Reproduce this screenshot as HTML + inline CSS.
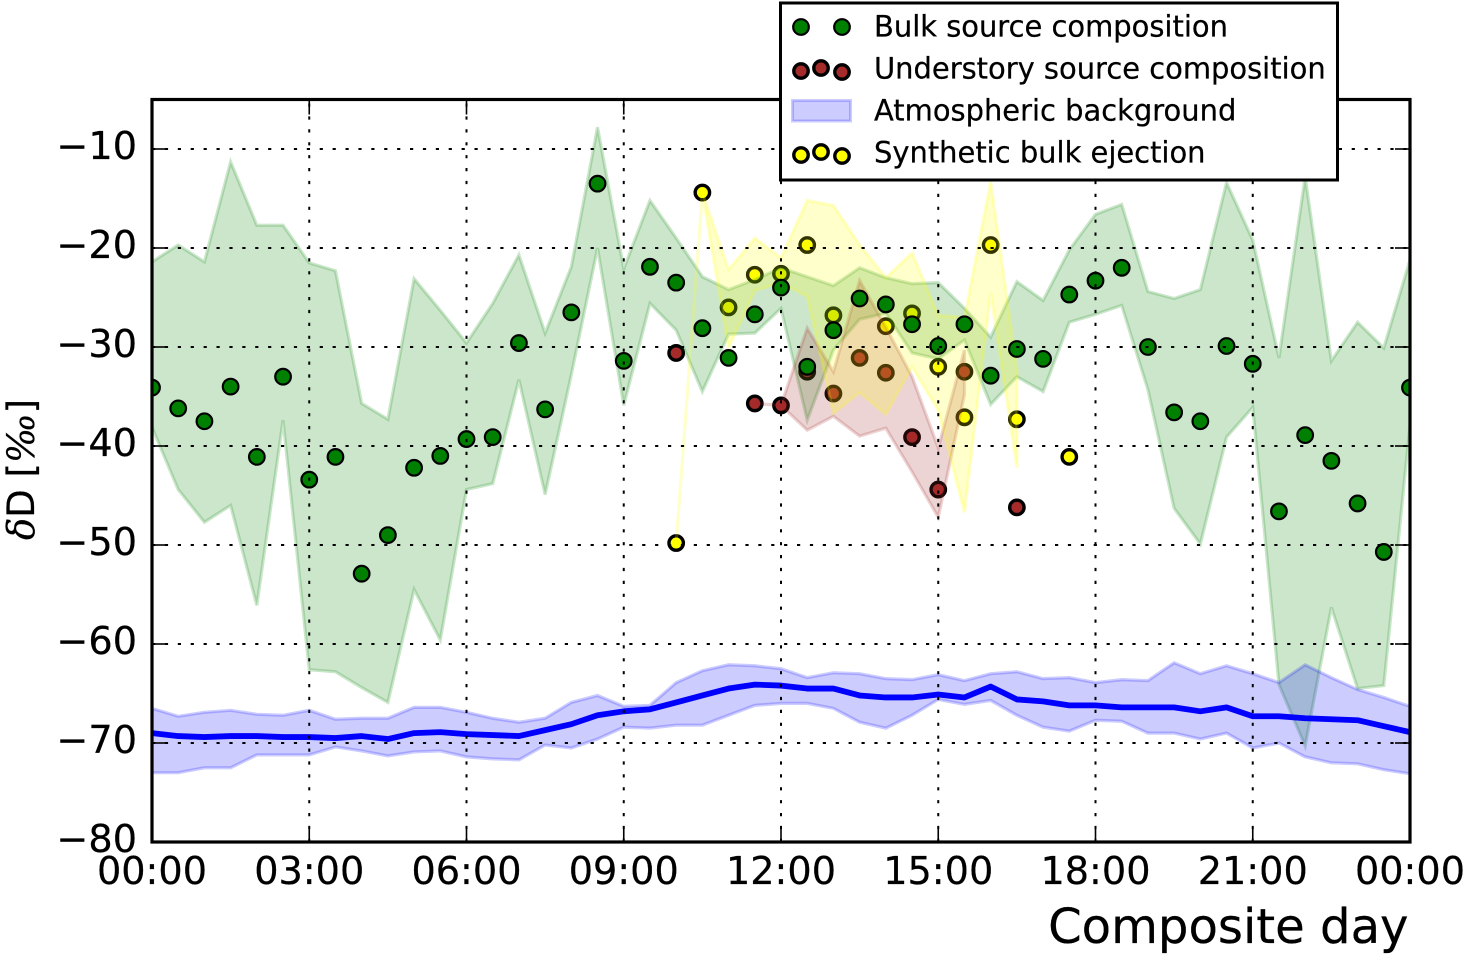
<!DOCTYPE html>
<html>
<head>
<meta charset="utf-8">
<title>Composite day deuterium chart</title>
<style>
html,body{margin:0;padding:0;background:#fff;}
svg{display:block;font-family:"DejaVu Sans","Liberation Sans",sans-serif;}
text{stroke:#000;stroke-width:0.25;}
</style>
</head>
<body>
<svg id="chart" xmlns="http://www.w3.org/2000/svg" width="1463" height="954" viewBox="0 0 1463 954">
  <defs>
    <clipPath id="plot-clip"><rect x="152" y="99.5" width="1258" height="742.5"/></clipPath>
  </defs>
  <rect x="0" y="0" width="1463" height="954" fill="#fff"/>
  <g id="marks" clip-path="url(#plot-clip)"></g>
  <g id="grid" clip-path="url(#plot-clip)"></g>
  <g id="ticks"></g>
  <rect x="152" y="99.5" width="1258" height="742.5" fill="none" stroke="#000" stroke-width="3.2"/>
  <g id="tick-labels" font-size="38.2" fill="#000"></g>
  <text x="1408.5" y="943" font-size="48.1" text-anchor="end" fill="#000">Composite day</text>
  <text transform="translate(34 540) rotate(-90)" font-size="37" fill="#000"><tspan font-family="'DejaVu Serif','Liberation Serif',serif" font-style="italic">δ</tspan><tspan>D [</tspan><tspan font-family="'DejaVu Serif','Liberation Serif',serif" font-style="italic">‰</tspan><tspan>]</tspan></text>
  <g>
    <rect x="780.5" y="3" width="557" height="177" fill="#fff" stroke="#000" stroke-width="3"/>
    <g>
      <circle cx="801" cy="27" r="7.8" fill="#008000" stroke="#000" stroke-width="2.2"/>
      <circle cx="842" cy="27" r="7.8" fill="#008000" stroke="#000" stroke-width="2.2"/>
      <text x="874" y="36.5" font-size="28.95" fill="#000">Bulk source composition</text>
    </g>
    <g>
      <circle cx="801" cy="71" r="7.2" fill="#a52a2a" stroke="#000" stroke-width="3.4"/>
      <circle cx="821" cy="68" r="7.2" fill="#a52a2a" stroke="#000" stroke-width="3.4"/>
      <circle cx="842" cy="72" r="7.2" fill="#a52a2a" stroke="#000" stroke-width="3.4"/>
      <text x="874" y="78.5" font-size="28.95" fill="#000">Understory source composition</text>
    </g>
    <g>
      <rect x="792.5" y="100.5" width="58" height="20.5" fill="#0000ff" fill-opacity="0.2" stroke="#0000ff" stroke-opacity="0.2" stroke-width="3"/>
      <text x="874" y="120.5" font-size="28.95" fill="#000">Atmospheric background</text>
    </g>
    <g>
      <circle cx="801" cy="155" r="7.2" fill="#ffff00" stroke="#000" stroke-width="3.4"/>
      <circle cx="821" cy="152" r="7.2" fill="#ffff00" stroke="#000" stroke-width="3.4"/>
      <circle cx="842" cy="156" r="7.2" fill="#ffff00" stroke="#000" stroke-width="3.4"/>
      <text x="874" y="162.5" font-size="28.95" fill="#000">Synthetic bulk ejection</text>
    </g>
  </g>
</svg>
<script>
// Half-hour categories across the composite day (hours)
const hours = [0,0.5,1,1.5,2,2.5,3,3.5,4,4.5,5,5.5,6,6.5,7,7.5,8,8.5,9,9.5,10,10.5,11,11.5,12,12.5,13,13.5,14,14.5,15,15.5,16,16.5,17,17.5,18,18.5,19,19.5,20,20.5,21,21.5,22,22.5,23,23.5,24];

// Bulk source composition
const bulkValues = [-34.1,-36.2,-37.5,-34.0,-41.1,-33.0,-43.4,-41.1,-52.9,-49.0,-42.2,-41.0,-39.3,-39.1,-29.6,-36.3,-26.5,-13.5,-31.4,-21.9,-23.5,-28.1,-31.1,-26.7,-24.0,-32.0,-28.3,-25.1,-25.7,-27.7,-29.9,-27.7,-32.9,-30.2,-31.2,-24.7,-23.3,-22.0,-30.0,-36.6,-37.5,-29.9,-31.7,-46.6,-38.9,-41.5,-45.8,-50.7,-34.1];
const bulkUpper = [-21.4,-19.7,-21.4,-11.3,-17.7,-17.7,-21.5,-22.3,-35.7,-37.3,-23.1,-26.3,-29.6,-25.6,-20.7,-28.6,-21.9,-7.8,-22.1,-15.2,-19.0,-22.9,-24.2,-23.2,-22.0,-22.9,-23.8,-22.0,-23.0,-23.6,-23.5,-26.1,-29.0,-23.4,-25.3,-20.2,-16.6,-15.6,-24.4,-25.1,-24.2,-13.4,-19.2,-31.1,-12.8,-31.4,-27.5,-30.1,-21.2];
const bulkLower = [-38.1,-44.4,-47.7,-46.0,-56.1,-37.4,-62.6,-62.8,-64.4,-65.9,-54.5,-59.6,-44.4,-43.8,-33.3,-44.9,-32.8,-20.0,-35.9,-25.6,-28.3,-34.5,-28.7,-28.6,-26.1,-37.4,-30.3,-27.2,-26.6,-30.6,-31.2,-29.3,-35.8,-33.0,-34.5,-27.5,-26.7,-25.8,-34.3,-46.3,-49.9,-39.1,-36.1,-64.1,-70.3,-56.3,-64.5,-64.2,-37.9];

// Atmospheric background
const atmosMean = [-69.0,-69.3,-69.4,-69.3,-69.3,-69.4,-69.4,-69.5,-69.3,-69.6,-69.0,-68.9,-69.1,-69.2,-69.3,-68.7,-68.1,-67.2,-66.8,-66.6,-65.9,-65.2,-64.5,-64.1,-64.2,-64.5,-64.5,-65.2,-65.4,-65.4,-65.1,-65.4,-64.3,-65.6,-65.8,-66.2,-66.2,-66.4,-66.4,-66.4,-66.8,-66.4,-67.3,-67.3,-67.5,-67.6,-67.7,-68.3,-68.9];
const atmosUpper = [-66.5,-67.3,-66.9,-66.7,-67.1,-67.2,-66.7,-67.6,-67.5,-67.5,-66.4,-66.4,-66.9,-67.5,-67.9,-67.5,-65.9,-65.2,-66.3,-66.2,-63.9,-62.7,-62.1,-62.2,-62.5,-63.4,-62.9,-63.0,-63.5,-63.6,-63.1,-63.7,-63.0,-62.8,-63.5,-63.4,-63.9,-63.6,-63.7,-61.9,-63.0,-62.2,-63.0,-63.9,-62.1,-63.4,-64.6,-65.4,-66.3];
const atmosLower = [-73.0,-73.0,-72.5,-72.5,-71.2,-71.2,-71.2,-70.4,-70.8,-71.3,-70.9,-70.8,-71.4,-71.6,-71.7,-70.2,-70.5,-69.6,-68.4,-68.5,-68.2,-68.2,-67.2,-66.2,-66.0,-66.0,-66.5,-67.9,-68.5,-67.2,-65.6,-66.1,-65.7,-67.2,-68.4,-68.8,-67.7,-67.8,-69.0,-69.0,-69.6,-69.0,-70.5,-70.0,-71.4,-72.0,-72.1,-72.7,-73.1];

// Understory source composition
const understoryHours = [10,11.5,12,12.5,13,13.5,14,14.5,15,15.5,16.5];
const understoryValues = [-30.6,-35.7,-35.9,-32.5,-34.7,-31.1,-32.6,-39.1,-44.4,-32.5,-46.2];
const understoryBandHours = [11.5,12,12.5,13,13.5,14,14.5,15,15.5];
const understoryUpper = [-35.7,-35.9,-28.1,-32.5,-23.3,-28.0,-33.0,-40.2,-30.3];
const understoryLower = [-35.7,-35.9,-38.4,-37.0,-39.0,-38.2,-42.6,-47.2,-34.8];

// Synthetic bulk ejection
const syntheticHours = [10,10.5,11,11.5,12,12.5,13,14,14.5,15,15.5,16,16.5,17.5];
const syntheticValues = [-49.8,-14.4,-26.0,-22.7,-22.6,-19.7,-26.8,-27.9,-26.6,-32.0,-37.1,-19.7,-37.3,-41.1];
const syntheticBandHours = [10,10.5,11,11.5,12,12.5,13,13.5,14,14.5,15,15.5,16,16.5];
const syntheticUpper = [-49.8,-14.4,-22.2,-19.0,-21.0,-15.2,-15.7,-19.7,-23.0,-20.5,-26.8,-27.0,-13.3,-32.3];
const syntheticLower = [-49.8,-14.4,-30.1,-24.3,-23.5,-24.9,-36.7,-34.6,-36.8,-32.0,-36.4,-46.7,-24.5,-42.2];

// Axis ticks
const yTickValues = [-10,-20,-30,-40,-50,-60,-70,-80];
const yTickLabels = ['\u221210','\u221220','\u221230','\u221240','\u221250','\u221260','\u221270','\u221280'];
const xTickHours = [0,3,6,9,12,15,18,21,24];
const xTickLabels = ['00:00','03:00','06:00','09:00','12:00','15:00','18:00','21:00','00:00'];

// Axis functions
const X0 = 152, X1 = 1410, YTOP = 99.5, YBOT = 842;
function xAxis(h) { return X0 + (h - 0) / 24 * (X1 - X0); }
function yAxis(v) { return YTOP + (-5 - v) / 75 * (YBOT - YTOP); }

const NS = 'http://www.w3.org/2000/svg';
function make(tag, attrs, parent) {
  const node = document.createElementNS(NS, tag);
  for (const k in attrs) node.setAttribute(k, attrs[k]);
  parent.appendChild(node);
  return node;
}
function bandPath(xs, upper, lower) {
  const top = xs.map((h, i) => xAxis(h).toFixed(2) + ',' + yAxis(upper[i]).toFixed(2));
  const bottom = xs.map((h, i) => xAxis(h).toFixed(2) + ',' + yAxis(lower[i]).toFixed(2)).reverse();
  return 'M' + top.concat(bottom).join('L') + 'Z';
}

const marks = document.getElementById('marks');
const grid = document.getElementById('grid');
const ticks = document.getElementById('ticks');
const tickLabels = document.getElementById('tick-labels');

// Understory points sit beneath the bands
understoryHours.forEach((h, i) => {
  const c = make('circle', {cx: xAxis(h), cy: yAxis(understoryValues[i]), r: 7.2, fill: '#a52a2a', stroke: '#000', 'stroke-width': 3.4}, marks);
  
  
});
// Synthetic points
syntheticHours.forEach((h, i) => {
  const c = make('circle', {cx: xAxis(h), cy: yAxis(syntheticValues[i]), r: 7.2, fill: '#ffff00', stroke: '#000', 'stroke-width': 3.4}, marks);
  
  
});

const bandStyle = {'fill-opacity': 0.2, 'stroke-opacity': 0.2, 'stroke-width': 3.2, 'stroke-linejoin': 'miter'};

const bulkBand = make('path', Object.assign({d: bandPath(hours, bulkUpper, bulkLower), fill: '#008000', stroke: '#008000'}, bandStyle), marks);



const understoryBand = make('path', Object.assign({d: bandPath(understoryBandHours, understoryUpper, understoryLower), fill: '#a52a2a', stroke: '#a52a2a'}, bandStyle), marks);



const syntheticBand = make('path', Object.assign({d: bandPath(syntheticBandHours, syntheticUpper, syntheticLower), fill: '#ffff00', stroke: '#ffff00'}, bandStyle), marks);



const atmosBand = make('path', Object.assign({d: bandPath(hours, atmosUpper, atmosLower), fill: '#0000ff', stroke: '#0000ff'}, bandStyle), marks);



const atmosLine = make('polyline', {points: hours.map((h, i) => xAxis(h).toFixed(2) + ',' + yAxis(atmosMean[i]).toFixed(2)).join(' '), fill: 'none', stroke: '#0000ff', 'stroke-width': 5.8, 'stroke-linejoin': 'round'}, marks);



// Bulk points on top
hours.forEach((h, i) => {
  const c = make('circle', {cx: xAxis(h), cy: yAxis(bulkValues[i]), r: 7.8, fill: '#008000', stroke: '#000', 'stroke-width': 2.2}, marks);
  
  
});

// Y grid, ticks, labels
yTickValues.forEach((v, i) => {
  const y = yAxis(v);
  const g = make('line', {x1: X0, x2: X1, y1: y, y2: y, stroke: '#000', 'stroke-width': 2, 'stroke-dasharray': '3.2 9.7'}, grid);
  
  
  const t1 = make('line', {x1: X0, x2: X0 + 15, y1: y, y2: y, stroke: '#000', 'stroke-width': 1.6}, ticks);
  
  
  const t2 = make('line', {x1: X1 - 15, x2: X1, y1: y, y2: y, stroke: '#000', 'stroke-width': 1.6}, ticks);
  
  
  const label = make('text', {x: 137, y: y + 10, 'text-anchor': 'end'}, tickLabels);
  
  
  label.textContent = yTickLabels[i];
});

// X grid, ticks, labels
xTickHours.forEach((h, i) => {
  const x = xAxis(h);
  const g = make('line', {x1: x, x2: x, y1: YBOT, y2: YTOP, stroke: '#000', 'stroke-width': 2, 'stroke-dasharray': '3.2 9.7'}, grid);
  
  
  const t1 = make('line', {x1: x, x2: x, y1: YBOT - 15, y2: YBOT, stroke: '#000', 'stroke-width': 1.6}, ticks);
  
  
  const t2 = make('line', {x1: x, x2: x, y1: YTOP, y2: YTOP + 15, stroke: '#000', 'stroke-width': 1.6}, ticks);
  
  
  const label = make('text', {x: x, y: 884, 'text-anchor': 'middle'}, tickLabels);
  
  
  label.textContent = xTickLabels[i];
});
</script>
</body>
</html>
